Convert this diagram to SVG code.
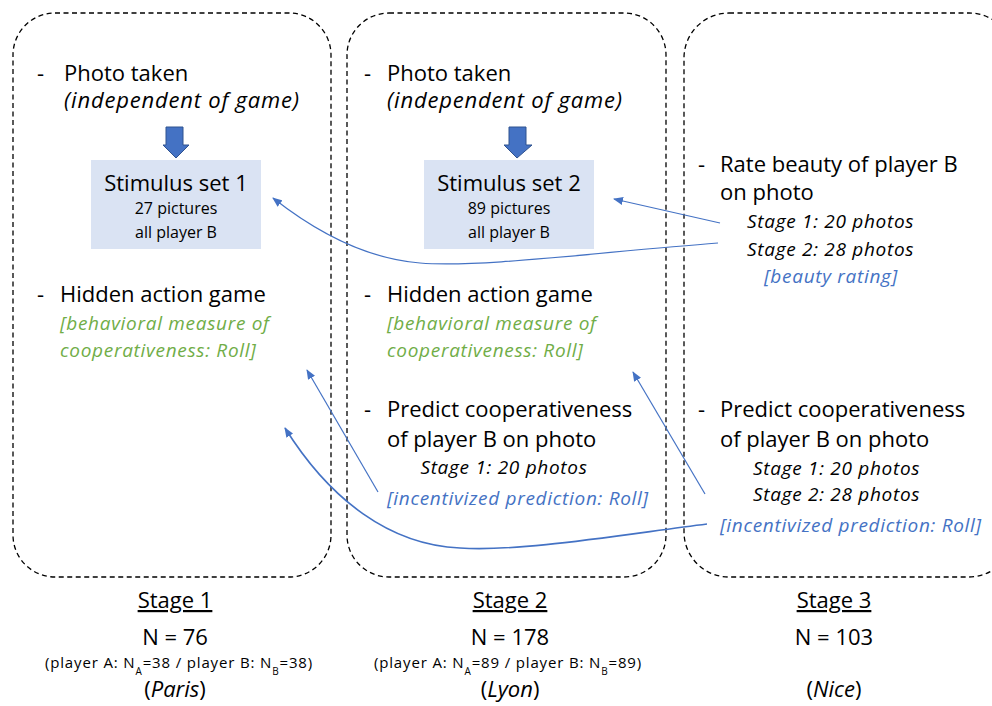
<svg xmlns="http://www.w3.org/2000/svg" width="992" height="706" viewBox="0 0 992 706">
  <style>
    text { font-family: "Open Sans", "Noto Sans", "Liberation Sans", sans-serif; fill: #000; }
    .stage { fill: none; stroke: #000; stroke-width: 1.3; stroke-dasharray: 5 3.5; }
    .big { font-size: 22px; }
    .mid { font-size: 19px; }
    .small { font-size: 16px; }
    .tiny { font-size: 15px; letter-spacing: 0.85px; }
    .it { font-style: italic; }
    .big.it { letter-spacing: 0.8px; }
    .mid.it { letter-spacing: 0.7px; }
    .green { fill: #70AD47; }
    .blue { fill: #4472C4; }
    .mid-a { text-anchor: middle; }
    .set { fill: #DAE3F3; }
    .down { fill: #4472C4; stroke: #2F528F; stroke-width: 1; }
    .link { fill: none; stroke: #4472C4; stroke-width: 1.2; marker-end: url(#head); }
  </style>
  <defs>
    <marker id="head" viewBox="0 0 10 8" refX="9" refY="4" markerWidth="10" markerHeight="8" markerUnits="userSpaceOnUse" orient="auto">
      <path d="M0,0 L10,4 L0,8 Z" fill="#4472C4"/>
    </marker>
  </defs>

  <!-- Stage 1 panel -->
  <g id="stage1">
    <rect class="stage" x="13" y="13" width="318" height="564" rx="42"/>
    <text class="big" x="37" y="81">-</text>
    <text class="big" x="64" y="81">Photo taken</text>
    <text class="big it" x="64" y="108">(independent of game)</text>
    <path class="down" d="M166,127 H183 V145 H189 L176,158 L163,145 H166 Z"/>
    <text class="big" x="37" y="302">-</text>
    <text class="big" x="60" y="302">Hidden action game</text>
    <text class="mid it green" x="60" y="330">[behavioral measure of</text>
    <text class="mid it green" x="60" y="357">cooperativeness: Roll]</text>
  </g>
  <g id="set1">
    <rect class="set" x="91" y="160" width="170" height="89"/>
    <text class="big mid-a" x="176" y="191">Stimulus set 1</text>
    <text class="small mid-a" x="176" y="214">27 pictures</text>
    <text class="small mid-a" x="176" y="238">all player B</text>
  </g>

  <!-- Stage 2 panel -->
  <g id="stage2">
    <rect class="stage" x="347" y="13" width="319" height="564" rx="42"/>
    <text class="big" x="364" y="81">-</text>
    <text class="big" x="387" y="81">Photo taken</text>
    <text class="big it" x="387" y="108">(independent of game)</text>
    <path class="down" d="M509,127 H526 V145 H532 L517,158 L504,145 H509 Z"/>
    <text class="big" x="364" y="302">-</text>
    <text class="big" x="387" y="302">Hidden action game</text>
    <text class="mid it green" x="387" y="330">[behavioral measure of</text>
    <text class="mid it green" x="387" y="357">cooperativeness: Roll]</text>
    <text class="big" x="364" y="417">-</text>
    <text class="big" x="387" y="417">Predict cooperativeness</text>
    <text class="big" x="387" y="447">of player B on photo</text>
    <text class="mid it mid-a" x="504" y="474">Stage 1: 20 photos</text>
    <text class="mid it blue" x="387" y="505">[incentivized prediction: Roll]</text>
  </g>
  <g id="set2">
    <rect class="set" x="424" y="160" width="170" height="89"/>
    <text class="big mid-a" x="509" y="191">Stimulus set 2</text>
    <text class="small mid-a" x="509" y="214">89 pictures</text>
    <text class="small mid-a" x="509" y="238">all player B</text>
  </g>

  <!-- Stage 3 panel -->
  <g id="stage3">
    <rect class="stage" x="684" y="13" width="330" height="564" rx="45"/>
    <text class="big" x="698" y="172">-</text>
    <text class="big" x="720" y="172">Rate beauty of player B</text>
    <text class="big" x="720" y="200">on photo</text>
    <text class="mid it" x="747" y="228">Stage 1: 20 photos</text>
    <text class="mid it" x="747" y="256">Stage 2: 28 photos</text>
    <text class="mid it blue mid-a" x="831" y="283">[beauty rating]</text>
    <text class="big" x="698" y="417">-</text>
    <text class="big" x="720" y="417">Predict cooperativeness</text>
    <text class="big" x="720" y="447">of player B on photo</text>
    <text class="mid it" x="753" y="475">Stage 1: 20 photos</text>
    <text class="mid it" x="753" y="501">Stage 2: 28 photos</text>
    <text class="mid it blue" x="720" y="532">[incentivized prediction: Roll]</text>
  </g>

  <!-- Stage captions -->
  <g id="caption1">
    <text class="big mid-a" x="175" y="608" text-decoration="underline">Stage 1</text>
    <text class="big mid-a" x="175" y="645">N = 76</text>
    <text class="tiny mid-a" x="179" y="668">(player A: N<tspan baseline-shift="sub" font-size="10">A</tspan>=38 / player B: N<tspan baseline-shift="sub" font-size="10">B</tspan>=38)</text>
    <text class="big mid-a" x="175" y="697">(<tspan class="it">Paris</tspan>)</text>
  </g>
  <g id="caption2">
    <text class="big mid-a" x="510" y="608" text-decoration="underline">Stage 2</text>
    <text class="big mid-a" x="510" y="645">N = 178</text>
    <text class="tiny mid-a" x="508" y="668">(player A: N<tspan baseline-shift="sub" font-size="10">A</tspan>=89 / player B: N<tspan baseline-shift="sub" font-size="10">B</tspan>=89)</text>
    <text class="big mid-a" x="510" y="697">(<tspan class="it">Lyon</tspan>)</text>
  </g>
  <g id="caption3">
    <text class="big mid-a" x="834" y="608" text-decoration="underline">Stage 3</text>
    <text class="big mid-a" x="834" y="645">N = 103</text>
    <text class="big mid-a" x="834" y="697">(<tspan class="it">Nice</tspan>)</text>
  </g>

  <!-- Connectors -->
  <g id="connectors">
    <path class="link" d="M720,223 L614,199"/>
    <path class="link" d="M718,243 C600,252 480,268 420,263 C370,259 320,235 273,198"/>
    <path class="link" d="M378,492 L307,370"/>
    <path class="link" d="M705,494 L633,372"/>
    <path class="link" style="stroke-width:1.6" d="M707,524 C620,535 520,552 460,548 C390,545 330,500 285,428"/>
  </g>
</svg>
